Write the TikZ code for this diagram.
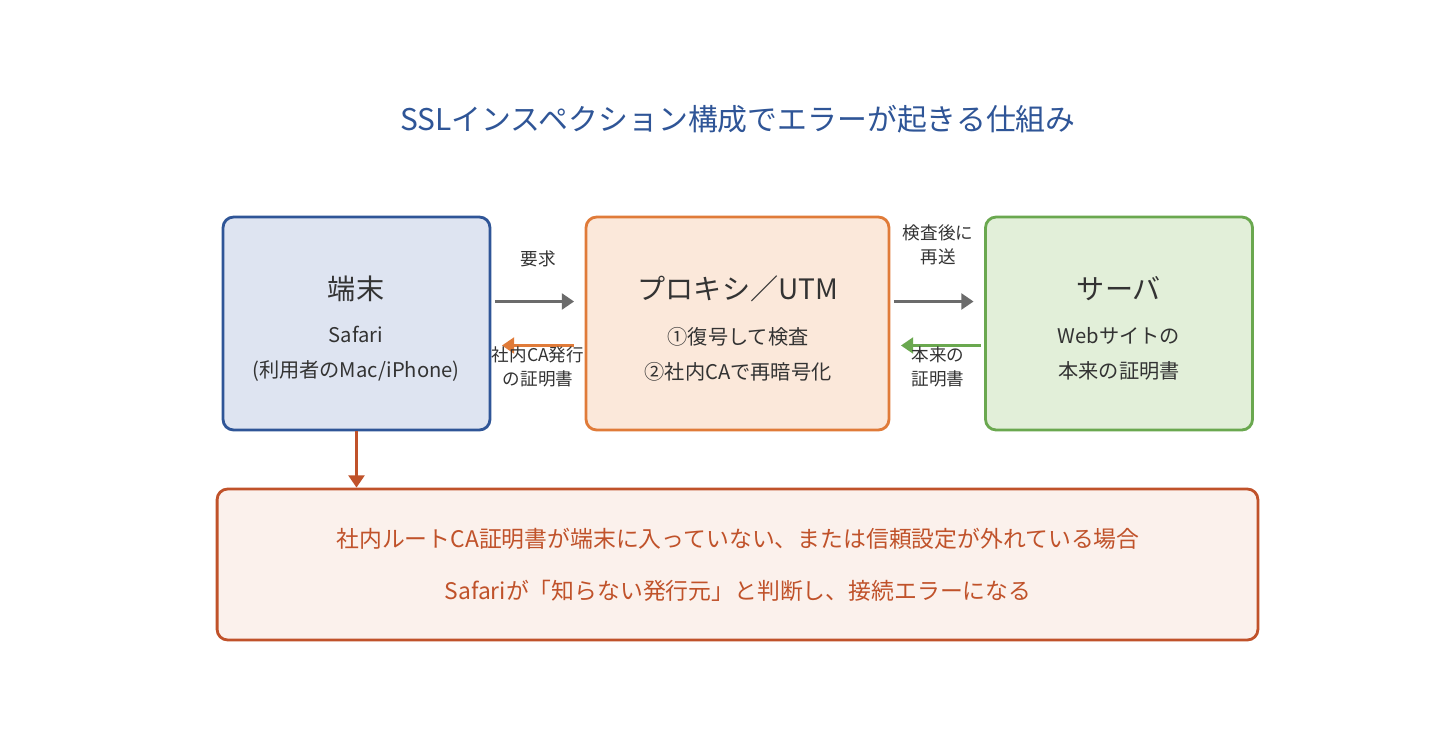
\documentclass[tikz,border=0pt]{standalone}
\usepackage{fontspec}
\setmainfont{Noto Sans CJK JP}
\usetikzlibrary{arrows.meta,positioning}
\definecolor{tblue}{HTML}{2F5597}
\definecolor{fblue}{HTML}{DEE4F1}
\definecolor{torange}{HTML}{E07B39}
\definecolor{forange}{HTML}{FBE8DA}
\definecolor{tgreen}{HTML}{6AA84F}
\definecolor{fgreen}{HTML}{E2EFD9}
\definecolor{tred}{HTML}{C0522A}
\definecolor{fred}{HTML}{FBF1EC}
\definecolor{tgray}{HTML}{6B6B6B}
\definecolor{ttext}{HTML}{333333}
\begin{document}
\begin{tikzpicture}[x=0.02cm,y=-0.02cm,
    box/.style={draw,line width=1.6pt,rounded corners=6pt,minimum width=5.34cm,minimum height=4.26cm},
    head/.style={font=\fontsize{16}{18}\selectfont,text=ttext},
    body/.style={font=\fontsize{11.5}{20}\selectfont,text=ttext,align=center},
    lbl/.style={font=\fontsize{10}{14}\selectfont,text=ttext,align=center},
    arr/.style={line width=2.2pt,-{Triangle[length=7pt,width=9pt]}}]
\useasboundingbox[fill=white] (0,0) rectangle (1440,744);
\node[font=\fontsize{17}{18}\selectfont,text=tblue] (title) at (738,119) {SSLインスペクション構成でエラーが起きる仕組み};
% boxes
\node[box,draw=tblue,fill=fblue] (term) at (356.5,323.5) {};
\node[box,draw=torange,fill=forange,minimum width=6.06cm] (proxy) at (737.5,323.5) {};
\node[box,draw=tgreen,fill=fgreen] (serv) at (1119,323.5) {};
\node[box,draw=tred,fill=fred,minimum width=20.82cm,minimum height=3.02cm] (warn) at (737.5,564.5) {};
% texts
\node[head] (termh) at (356,289) {端末};
\node[body] (termb) at (356,354) {Safari\\(利用者のMac/iPhone)};
\node[head] (proxyh) at (738,289) {プロキシ／UTM};
\node[body] (proxyb) at (738,354) {①復号して検査\\②社内CAで再暗号化};
\node[head] (servh) at (1119,289) {サーバ};
\node[body] (servb) at (1119,354) {Webサイトの\\本来の証明書};
\node[font=\fontsize{13}{18}\selectfont,text=tred] (warn1) at (738,539) {社内ルートCA証明書が端末に入っていない、または信頼設定が外れている場合};
\node[font=\fontsize{13}{18}\selectfont,text=tred] (warn2) at (738,591) {Safariが「知らない発行元」と判断し、接続エラーになる};
% arrows
\draw[arr,tgray] ([xshift=2pt,yshift=0.44cm]term.east) -- ([xshift=-6pt,yshift=0.44cm]proxy.west);
\draw[arr,torange] ([xshift=-6pt,yshift=-0.44cm]proxy.west) -- ([xshift=6pt,yshift=-0.44cm]term.east);
\draw[arr,tgray] ([xshift=2pt,yshift=0.44cm]proxy.east) -- ([xshift=-6pt,yshift=0.44cm]serv.west);
\draw[arr,tgreen] ([xshift=-2pt,yshift=-0.44cm]serv.west) -- ([xshift=6pt,yshift=-0.44cm]proxy.east);
\draw[arr,tred] (term.south) -- (warn.north -| term.south);
% labels
\node[lbl] (req) at (538,259) {要求};
\node[lbl] (issue) at (538,367) {社内CA発行\\の証明書};
\node[lbl] (fwd) at (938,245) {検査後に\\再送};
\node[lbl] (orig) at (938,367) {本来の\\証明書};
\end{tikzpicture}
\end{document}
